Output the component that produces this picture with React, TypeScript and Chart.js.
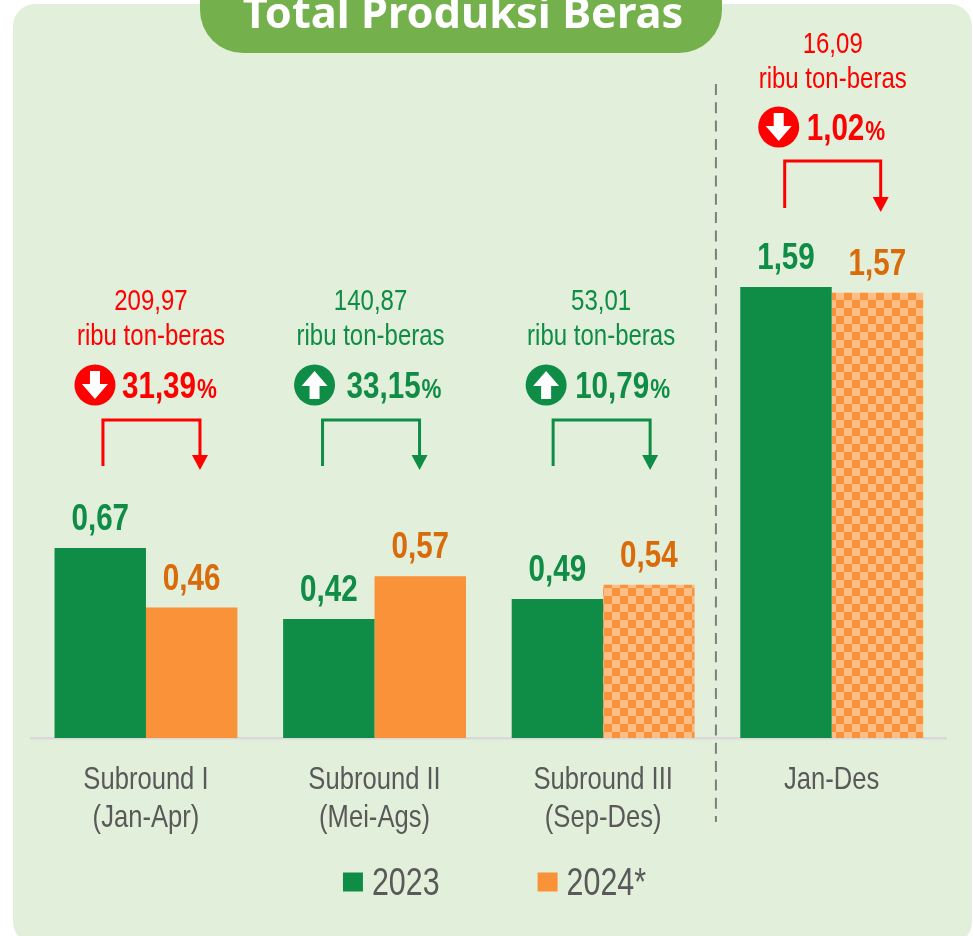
import React, { useEffect, useRef } from "react";
import { Chart, registerables } from "chart.js";

Chart.register(...registerables);

const categories = [["Subround I", "(Jan-Apr)"], ["Subround II", "(Mei-Ags)"], ["Subround III", "(Sep-Des)"], "Jan-Des"];
const values2023 = [0.67, 0.42, 0.49, 1.59];
const values2024 = [0.46, 0.57, 0.54, 1.57];
const patternedBars = [false, false, true, true];
const changeAmounts = ["209,97", "140,87", "53,01", "16,09"];
const changePercents = ["31,39", "33,15", "10,79", "1,02"];
const changeDirections = ["down", "up", "up", "down"];
const seriesNames = ["2023", "2024*"];
const titleText = "Total Produksi Beras";

const GREEN = "#0F8C45";
const ORANGE = "#FA9239";
const ORANGE_LIGHT = "#FCBD87";
const ORANGE_TEXT = "#D96B0A";
const RED = "#FF0000";
const GREY_TEXT = "#595959";
const SANS = '"Liberation Sans", sans-serif';
const TEXT_SQUEEZE = 0.8;

// annotation layout, as offsets from each category centre
const annotationLayout = [
  { text: 5, y1: 302, y2: 337, icon: -51, iconY: 385, pct: -24, pctY: 398, bl: -43, br: 54, top: 420, bottom: 466, tip: 470 },
  { text: -4, y1: 302, y2: 337, icon: -60, iconY: 385, pct: -28, pctY: 398, bl: -52, br: 45, top: 420, bottom: 466, tip: 470 },
  { text: -2, y1: 302, y2: 337, icon: -57, iconY: 385, pct: -28, pctY: 398, bl: -50, br: 47, top: 420, bottom: 466, tip: 470 },
  { text: 1, y1: 45, y2: 80, icon: -53, iconY: 127, pct: -25, pctY: 140, bl: -47, br: 49, top: 161, bottom: 208, tip: 212 },
];

// The reference's text is a horizontally condensed Arial; no such face is installed,
// so all text on this context is drawn through a horizontal squeeze.
function squeezeText(ctx: any) {
  const fill = ctx.fillText.bind(ctx);
  const measure = ctx.measureText.bind(ctx);
  ctx.__squeeze = TEXT_SQUEEZE;
  ctx.__dx = 0;
  ctx.__dy = 0;
  ctx.fillText = (t: string, x: number, y: number) => {
    ctx.save();
    ctx.translate(x + ctx.__dx, y + ctx.__dy);
    ctx.scale(ctx.__squeeze, 1);
    fill(t, 0, 0);
    ctx.restore();
  };
  ctx.measureText = (t: string) => ({ width: measure(t).width * ctx.__squeeze });
}

function makePattern(ctx: CanvasRenderingContext2D) {
  const c = document.createElement("canvas");
  c.width = 16;
  c.height = 16;
  const p = c.getContext("2d")!;
  p.fillStyle = ORANGE;
  p.fillRect(0, 0, 16, 16);
  p.fillStyle = ORANGE_LIGHT;
  p.fillRect(0, 0, 8, 8);
  p.fillRect(8, 8, 8, 8);
  const pattern = ctx.createPattern(c, "repeat")!;
  pattern.setTransform(new DOMMatrix().translate(12, 12));
  return pattern;
}

const decorPlugin = {
  id: "decor",
  beforeLayout(chart: any) {
    const l = chart.legend;
    const fit = l.fit;
    l.fit = function () {
      fit.call(this);
      this.height = 56;
    };
  },
  afterLayout(chart: any) {
    const l = chart.legend;
    const draw = l.draw;
    l.left = 13;
    l.right = 986;
    l.top = 775;
    l.bottom = 936;
    l.draw = function (area: any) {
      const c: any = chart.ctx;
      c.__dx = -10;
      c.__dy = 2.5;
      draw.call(this, area);
      c.__dx = 0;
      c.__dy = 0;
    };
  },
  beforeDraw(chart: any) {
    const c: any = chart.ctx;
    c.save();
    c.fillStyle = "#FFFFFF";
    c.fillRect(0, 0, 973, 936);
    c.fillStyle = "#E2EFDA";
    c.beginPath();
    c.roundRect(13, 4, 959, 940, 22);
    c.fill();
    c.fillStyle = "#74B04C";
    c.beginPath();
    c.roundRect(200, -40, 522, 93, 43);
    c.fill();
    c.fillStyle = "#FFFFFF";
    c.font = 'bold 43.4px "Noto Sans", "Open Sans", sans-serif';
    c.textAlign = "center";
    c.textBaseline = "alphabetic";
    c.__squeeze = 1;
    c.fillText(titleText, 463, 28);
    c.__squeeze = TEXT_SQUEEZE;
    c.restore();
  },
  afterDraw(chart: any) {
    const c: CanvasRenderingContext2D = chart.ctx;
    const x = chart.scales.x;
    c.save();
    // divider between the subrounds and the full year
    const divX = (x.getPixelForValue(2) + x.getPixelForValue(3)) / 2 - 1.5;
    c.strokeStyle = "#7F7F7F";
    c.lineWidth = 2;
    c.setLineDash([11, 7.3]);
    c.beginPath();
    c.moveTo(divX, 84);
    c.lineTo(divX, 822);
    c.stroke();
    c.setLineDash([]);

    // value labels on the bars
    chart.data.datasets.forEach((ds: any, di: number) => {
      chart.getDatasetMeta(di).data.forEach((bar: any, i: number) => {
        c.font = `bold 37px ${SANS}`;
        c.fillStyle = di === 0 ? GREEN : ORANGE_TEXT;
        c.textAlign = "center";
        c.textBaseline = "alphabetic";
        c.fillText(ds.data[i].toFixed(2).replace(".", ","), bar.x, bar.y - 18);
      });
    });

    // change annotations
    annotationLayout.forEach((a, i) => {
      const cx = x.getPixelForValue(i);
      const down = changeDirections[i] === "down";
      const col = down ? RED : GREEN;
      c.fillStyle = col;
      c.strokeStyle = col;
      c.textBaseline = "middle";
      c.textAlign = "center";
      c.font = `30px ${SANS}`;
      c.fillText(changeAmounts[i], cx + a.text, a.y1);
      c.fillText("ribu ton-beras", cx + a.text, a.y2);

      // icon
      const ix = cx + a.icon;
      const iy = a.iconY;
      c.beginPath();
      c.arc(ix, iy, 20.5, 0, Math.PI * 2);
      c.fill();
      const s = down ? 1 : -1;
      c.fillStyle = "#FFFFFF";
      c.beginPath();
      c.moveTo(ix - 5, iy - 14 * s);
      c.lineTo(ix + 5, iy - 14 * s);
      c.lineTo(ix + 5, iy - 1 * s);
      c.lineTo(ix + 13, iy - 1 * s);
      c.lineTo(ix, iy + 14 * s);
      c.lineTo(ix - 13, iy - 1 * s);
      c.lineTo(ix - 5, iy - 1 * s);
      c.closePath();
      c.fill();

      // percent
      c.fillStyle = col;
      c.textAlign = "left";
      c.textBaseline = "alphabetic";
      c.font = `bold 37px ${SANS}`;
      const px = cx + a.pct;
      c.fillText(changePercents[i], px, a.pctY);
      const w = c.measureText(changePercents[i]).width;
      c.font = `bold 28px ${SANS}`;
      c.fillText("%", px + w + 1, a.pctY);

      // bracket
      c.lineWidth = 3;
      c.beginPath();
      c.moveTo(cx + a.bl, a.bottom);
      c.lineTo(cx + a.bl, a.top);
      c.lineTo(cx + a.br, a.top);
      c.lineTo(cx + a.br, a.tip - 14);
      c.stroke();
      c.beginPath();
      c.moveTo(cx + a.br - 8, a.tip - 15);
      c.lineTo(cx + a.br + 8, a.tip - 15);
      c.lineTo(cx + a.br, a.tip);
      c.closePath();
      c.fill();
    });
    c.restore();
  },
};

export default function App() {
  const ref = useRef<HTMLCanvasElement>(null);
  useEffect(() => {
    const canvas = ref.current!;
    const ctx = canvas.getContext("2d")!;
    squeezeText(ctx);
    const pattern = makePattern(ctx);
    const chart = new Chart(ctx, {
      type: "bar",
      plugins: [decorPlugin],
      data: {
        labels: categories as any,
        datasets: [
          { label: seriesNames[0], data: values2023, backgroundColor: GREEN, categoryPercentage: 0.8, barPercentage: 1 },
          {
            label: seriesNames[1],
            data: values2024,
            backgroundColor: patternedBars.map((p) => (p ? pattern : ORANGE)) as any,
            categoryPercentage: 0.8,
            barPercentage: 1,
          },
        ],
      },
      options: {
        responsive: false,
        animation: false,
        layout: { padding: { top: 29, left: 31.67, right: 27, bottom: 22 } },
        scales: {
          y: { display: false, min: 0, max: 2.5 },
          x: {
            grid: { display: false },
            border: { color: "#D9D9D9", width: 2.5 },
            afterFit: (s: any) => {
              s.height = 120;
            },
            ticks: {
              color: GREY_TEXT,
              font: { family: SANS, size: 32, lineHeight: 1.19 },
              padding: 15,
              maxRotation: 0,
              autoSkip: false,
            },
          },
        },
        plugins: {
          tooltip: { enabled: false },
          legend: {
            position: "bottom",
            labels: {
              boxWidth: 20,
              boxHeight: 19,
              color: GREY_TEXT,
              font: { family: SANS, size: 38 },
              padding: 88,
              generateLabels: () => [
                { text: seriesNames[0], fillStyle: GREEN, strokeStyle: GREEN, fontColor: GREY_TEXT, lineWidth: 0, datasetIndex: 0 },
                { text: seriesNames[1], fillStyle: ORANGE, strokeStyle: ORANGE, fontColor: GREY_TEXT, lineWidth: 0, datasetIndex: 1 },
              ],
            },
          },
        },
      },
    } as any);
    return () => chart.destroy();
  }, []);
  return (
    <div style={{ position: "absolute", left: 0, top: 0, width: 973, height: 936, overflow: "hidden" }}>
      <canvas ref={ref} width={973} height={936} style={{ display: "block" }} />
    </div>
  );
}
